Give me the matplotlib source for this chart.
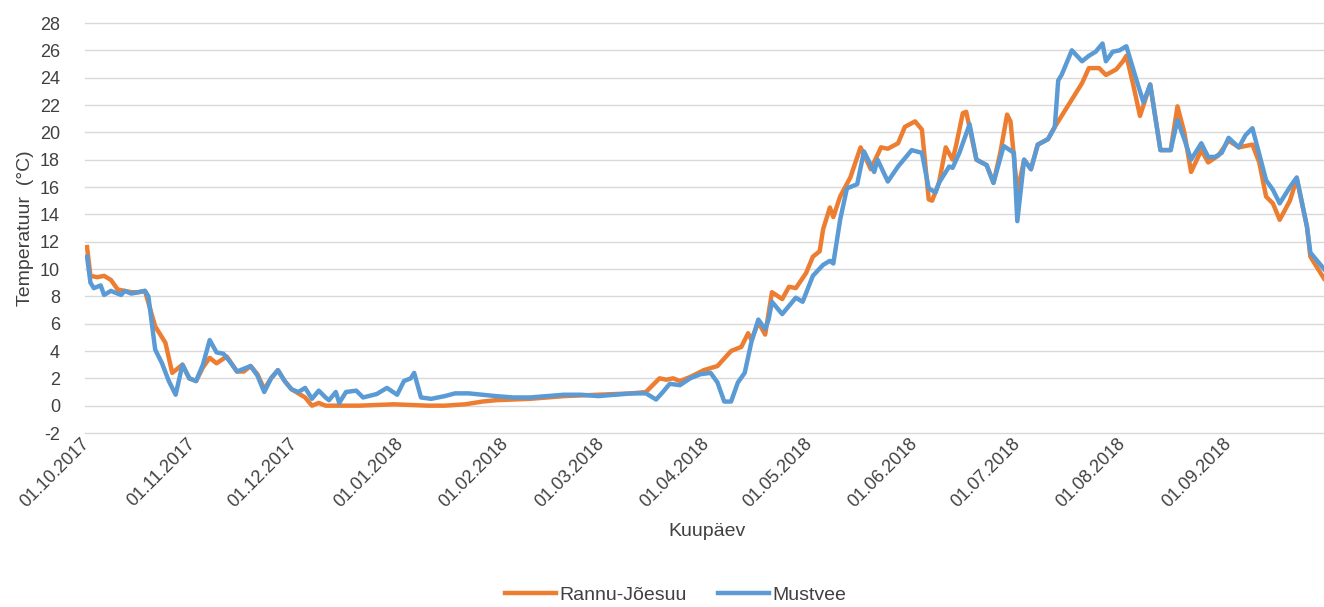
import matplotlib
matplotlib.use("Agg")
import matplotlib.pyplot as plt
import matplotlib.dates as mdates
import pandas as pd

# vee temperatuur, paevad alates 01.10.2017
start = pd.Timestamp("2017-10-01")

rannu_day = [0, 1, 3, 5, 7, 9, 11, 13, 15, 17, 20, 23, 25, 28, 30, 32, 34, 36, 38, 41,
             44, 46, 48, 50, 52, 54, 56, 58, 60, 62, 64, 66, 68, 70, 75, 80, 90, 100, 105, 111,
             116, 120, 130, 140, 150, 160, 164, 166, 168, 170, 172, 174, 177, 181, 185, 189, 192, 194, 195, 197,
             199, 201, 204, 206, 208, 211, 213, 215, 216, 218, 219, 221, 224, 227, 230, 233, 235, 238, 240, 243,
             245, 247, 248, 250, 252, 254, 255, 257, 258, 261, 264, 266, 268, 270, 271, 273, 275, 277, 279, 282,
             284, 286, 289, 292, 294, 297, 299, 302, 304, 305, 307, 309, 312, 315, 318, 320, 322, 324, 327, 329,
             332, 335, 338, 340, 342, 344, 346, 348, 350, 353, 355, 358, 359, 363]
rannu_temp = [11.6, 9.5, 9.4, 9.5, 9.2, 8.5, 8.4, 8.3, 8.3, 8.4, 5.8, 4.6, 2.4, 3.0, 2.0, 1.8, 2.8, 3.5, 3.1, 3.6,
              2.5, 2.5, 2.9, 2.3, 1.2, 2.0, 2.6, 1.8, 1.2, 0.9, 0.6, 0.0, 0.2, 0.0, 0.0, 0.0, 0.1, 0.0, 0.0, 0.1,
              0.3, 0.4, 0.5, 0.7, 0.8, 0.9, 1.0, 1.5, 2.0, 1.9, 2.0, 1.8, 2.1, 2.6, 2.9, 4.0, 4.3, 5.3, 4.8, 6.1,
              5.2, 8.3, 7.8, 8.7, 8.6, 9.7, 10.9, 11.3, 12.9, 14.5, 13.8, 15.3, 16.7, 18.9, 17.3, 18.9, 18.8, 19.2, 20.4, 20.8,
              20.2, 15.1, 15.0, 16.3, 18.9, 18.0, 19.0, 21.4, 21.5, 18.0, 17.6, 16.3, 18.5, 21.3, 20.8, 15.6, 18.0, 17.3, 19.1, 19.5,
              20.4, 21.2, 22.4, 23.6, 24.7, 24.7, 24.2, 24.6, 25.2, 25.6, 23.5, 21.2, 23.5, 18.7, 18.7, 21.9, 20.0, 17.1, 18.7, 17.8,
              18.3, 19.4, 18.9, 19.0, 19.1, 17.8, 15.3, 14.8, 13.6, 15.0, 16.6, 13.1, 10.9, 9.3]

mustvee_day = [0, 1, 2, 4, 5, 7, 9, 10, 11, 13, 15, 17, 18, 20, 22, 24, 26, 28, 30, 32,
               34, 36, 38, 40, 42, 44, 46, 48, 50, 52, 54, 56, 58, 60, 62, 64, 66, 68, 70, 71,
               73, 74, 76, 79, 81, 85, 88, 91, 93, 95, 96, 98, 101, 105, 108, 112, 116, 120, 125, 130,
               135, 140, 145, 150, 155, 160, 164, 167, 169, 171, 174, 177, 180, 183, 185, 187, 189, 191, 193, 195,
               197, 199, 200, 201, 204, 208, 210, 213, 216, 218, 219, 221, 223, 226, 228, 231, 232, 235, 238, 242,
               245, 247, 249, 250, 253, 254, 256, 259, 261, 264, 266, 269, 272, 273, 275, 277, 279, 282, 284, 285,
               286, 289, 292, 294, 296, 298, 299, 301, 303, 305, 308, 310, 312, 315, 318, 320, 322, 324, 327, 329,
               331, 333, 335, 338, 340, 342, 344, 346, 348, 350, 353, 355, 358, 359, 363]
mustvee_temp = [10.9, 9.0, 8.6, 8.8, 8.1, 8.4, 8.2, 8.1, 8.4, 8.2, 8.3, 8.4, 8.0, 4.1, 3.1, 1.8, 0.8, 3.0, 2.0, 1.8,
                3.0, 4.8, 3.9, 3.8, 3.2, 2.5, 2.7, 2.9, 2.2, 1.0, 2.0, 2.6, 1.8, 1.2, 1.0, 1.3, 0.5, 1.1, 0.6, 0.4,
                1.0, 0.2, 1.0, 1.1, 0.6, 0.85, 1.3, 0.8, 1.8, 2.0, 2.4, 0.6, 0.5, 0.7, 0.9, 0.9, 0.8, 0.7, 0.6, 0.6,
                0.7, 0.8, 0.8, 0.7, 0.8, 0.9, 0.9, 0.45, 1.0, 1.6, 1.5, 2.0, 2.3, 2.4, 1.7, 0.3, 0.3, 1.7, 2.4, 4.7,
                6.3, 5.6, 6.3, 7.6, 6.7, 7.9, 7.6, 9.5, 10.3, 10.6, 10.4, 13.6, 15.9, 16.2, 18.6, 17.1, 18.0, 16.4, 17.5, 18.7,
                18.5, 15.9, 15.6, 16.3, 17.5, 17.4, 18.5, 20.6, 18.0, 17.6, 16.3, 19.0, 18.5, 13.5, 18.0, 17.3, 19.1, 19.5, 20.4, 23.8,
                24.2, 26.0, 25.2, 25.6, 25.9, 26.5, 25.2, 25.9, 26.0, 26.3, 23.8, 22.2, 23.5, 18.7, 18.7, 20.9, 19.5, 18.0, 19.2, 18.2,
                18.2, 18.5, 19.6, 18.9, 19.8, 20.3, 18.4, 16.5, 15.8, 14.8, 16.0, 16.7, 13.1, 11.2, 10.0]

series_names = ["Rannu-Jõesuu", "Mustvee"]
colors = ["#ED7D31", "#5B9BD5"]

rannu_dates = start + pd.to_timedelta(rannu_day, unit="D")
mustvee_dates = start + pd.to_timedelta(mustvee_day, unit="D")

plt.rcParams["font.family"] = ["Liberation Sans", "DejaVu Sans"]
plt.rcParams["axes.unicode_minus"] = False

fig = plt.figure(figsize=(13.24, 6.07), dpi=100)
ax = fig.add_axes([85 / 1324, 1 - 433 / 607, 1 - 85 / 1324, (433 - 23) / 607])

ax.plot(rannu_dates, rannu_temp, color=colors[0], lw=3.2, label=series_names[0], solid_joinstyle="round")
ax.plot(mustvee_dates, mustvee_temp, color=colors[1], lw=3.2, label=series_names[1], solid_joinstyle="round")

ax.set_ylim(-2, 28)
ax.set_yticks(range(-2, 29, 2))
ax.set_xlim(start - pd.Timedelta(days=0.6), start + pd.Timedelta(days=363))
ax.xaxis.set_major_locator(mdates.MonthLocator(bymonthday=1))
ax.xaxis.set_major_formatter(mdates.DateFormatter("%d.%m.%Y"))

ax.grid(axis="y", color="#D9D9D9", lw=1.0)
for gl in ax.get_ygridlines():
    gl.set_clip_on(False)
ax.set_axisbelow(True)
for s in ax.spines.values():
    s.set_visible(False)
ax.tick_params(axis="both", length=0, colors="#404040", labelsize=13)
ax.tick_params(axis="y", pad=18)
ax.tick_params(axis="x", pad=6)
for lab in ax.get_xticklabels():
    lab.set_rotation(45)
    lab.set_ha("right")
    lab.set_va("center")
    lab.set_rotation_mode("anchor")

ax.set_ylabel("Temperatuur  (°C)", fontsize=14, color="#404040", labelpad=4)
fig.text(707 / 1324, 1 - 532 / 607, "Kuupäev", fontsize=14, color="#404040", ha="center", va="center")

fig.legend(loc="center", bbox_to_anchor=(676 / 1324, 1 - 595 / 607), ncol=2, frameon=False,
           fontsize=14, handlelength=2.6, columnspacing=1.6, handletextpad=0.2,
           labelcolor="#404040")

fig.savefig("out.png", dpi=100)
